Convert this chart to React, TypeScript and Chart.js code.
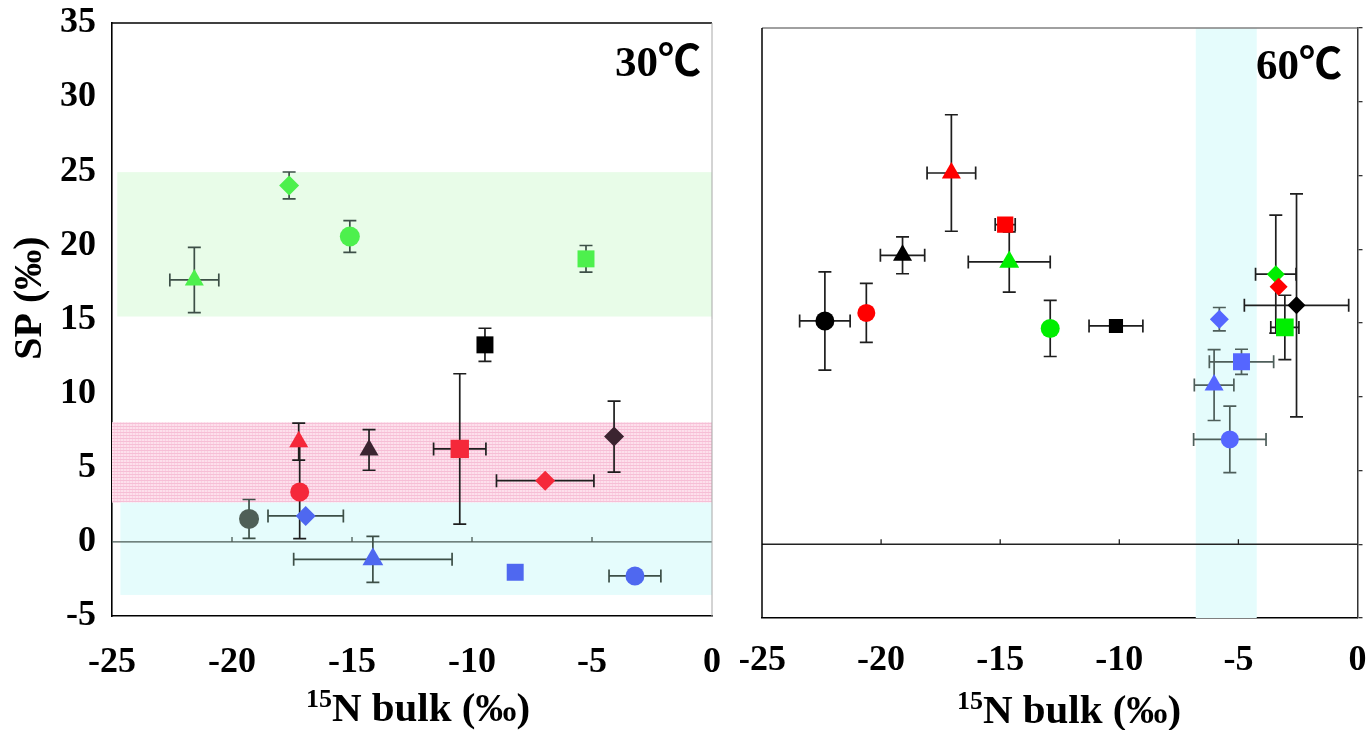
import React, { useEffect, useRef } from "react";
import { Chart, registerables } from "chart.js";

Chart.register(...registerables);

// ---------- axes ----------
const X_TICKS = [-25, -20, -15, -10, -5, 0];
const X_TICK_LABELS = ["-25", "-20", "-15", "-10", "-5", "0"];
const Y_TICKS = [-5, 0, 5, 10, 15, 20, 25, 30, 35];
const Y_TICK_LABELS = ["-5", "0", "5", "10", "15", "20", "25", "30", "35"];
const X_TITLE_SUP = "15";
const X_TITLE_MAIN = "N bulk (‰)";
const Y_TITLE = "SP (‰)";

// ---------- 30 ℃ panel data ----------
const L_LABEL = "30℃";
const L_BULK = [-21.57, -17.62, -15.09, -5.25, -9.46, -17.22, -17.18, -14.29, -10.51, -4.08, -6.95, -19.29, -16.93, -14.13, -8.2, -3.21];
const L_SP = [17.67, 24.04, 20.6, 19.09, 13.29, 6.76, 3.37, 6.2, 6.27, 7.1, 4.13, 1.55, 1.75, -1.18, -2.05, -2.3];
const L_BULK_ERR = [1.02, 0, 0, 0, 0, 0, 0, 0, 1.09, 0, 2.03, 0, 1.57, 3.3, 0, 1.08];
const L_SP_ERR = [2.2, 0.91, 1.07, 0.9, 1.12, 1.25, 3.15, 1.37, 5.07, 2.4, 0, 1.31, 0, 1.55, 0, 0];
// bands: green, pink, cyan
const L_BAND_X0 = [-24.78, -25, -24.65];
const L_BAND_X1 = [0, 0, 0];
const L_BAND_Y0 = [15.2, 2.65, -3.58];
const L_BAND_Y1 = [24.94, 8.07, 2.65];

// ---------- 60 ℃ panel data ----------
const R_LABEL = "60℃";
const R_BULK = [-22.36, -20.62, -19.1, -17.05, -14.79, -14.62, -12.9, -10.14, -5.8, -3.43, -3.31, -2.56, -3.05, -4.87, -6.02, -5.36];
const R_SP = [15.14, 15.68, 19.59, 25.17, 21.67, 19.14, 14.63, 14.8, 15.26, 18.31, 17.45, 16.2, 14.7, 12.37, 10.79, 7.11];
const R_BULK_ERR = [1.06, 0, 0.93, 1.02, 0.42, 1.72, 0, 1.13, 0, 0.85, 0, 2.19, 0.59, 1.35, 0.83, 1.52];
const R_SP_ERR = [3.33, 2.0, 1.25, 3.95, 0, 2.04, 1.9, 0, 0.79, 4.0, 0, 7.56, 2.18, 0.85, 2.4, 2.25];
const R_BAND_X0 = [-6.79];
const R_BAND_X1 = [-4.23];
const R_BAND_Y0 = [-5];
const R_BAND_Y1 = [35];

// ---------- styles ----------
const LG = "#4df04d", LR = "#f5283a", LB = "#4f68f0", LD = "#3b2430", LS = "#4f5f57", K = "#000000";
const L_SHAPE = ["triangle", "rectRot", "circle", "rect", "rect", "triangle", "circle", "triangle", "rect", "rectRot", "rectRot", "circle", "rectRot", "triangle", "rect", "circle"];
const L_COLOR = [LG, LG, LG, LG, K, LR, LR, LD, LR, LD, LR, LS, LB, LB, LB, LB];
const L_RADIUS = [11, 10, 10, 12, 12, 11, 9.5, 11, 13, 10, 10, 10, 10, 12, 12, 9.5];
const EG = "#3d4f47", EK = "#1e1e1e";
const L_ERR_COLOR = [EG, EG, EG, EG, EK, EK, EK, EK, EK, EK, EK, EG, EG, EG, EG, EG];
const L_BAND_FILL = ["green", "pink", "cyan"];

const RG = "#00ee00", RR = "#ff0000", RB = "#5566ff";
const R_SHAPE = ["circle", "circle", "triangle", "triangle", "rect", "triangle", "circle", "rect", "rectRot", "rectRot", "rectRot", "rectRot", "rect", "rect", "triangle", "circle"];
const R_COLOR = [K, RR, K, RR, RR, RG, RG, K, RB, RG, RR, K, RG, RB, RB, RB];
const R_RADIUS = [9.5, 9, 11, 11, 11.5, 11.5, 9.5, 10, 9.5, 9, 9, 9, 12.5, 12, 11, 9];
const EB = "#4e5e5a";
const R_ERR_COLOR = [EK, EK, EK, EK, EK, EK, EK, EK, EB, EK, EK, EK, EK, EB, EB, EB];
const R_BAND_FILL = ["cyan"];

const SERIF = '"Liberation Serif", "Times New Roman", serif';

type PanelDef = {
  id: string;
  label: string;
  bulk: number[];
  sp: number[];
  bulkErr: number[];
  spErr: number[];
  shape: string[];
  color: string[];
  radius: number[];
  errColor: string[];
  bx0: number[];
  bx1: number[];
  by0: number[];
  by1: number[];
  bfill: string[];
  canvasLeft: number;
  canvasWidth: number;
  padLeft: number;
  padRight: number;
  padTop: number;
  yAxisWidth: number;
  xAxisHeight: number;
  yOnLeft: boolean;
  xLabelPad: number;
  labelRight: number;
  labelBase: number;
  xTitleCenter: number;
  xTitleBase: number;
  zeroColor: string;
  topColor: string;
  sideColor: string;
};

function makePink(): CanvasPattern | string {
  const c = document.createElement("canvas");
  c.width = 3;
  c.height = 3;
  const g = c.getContext("2d");
  if (!g) return "#fde0ec";
  g.fillStyle = "#fde0ec";
  g.fillRect(0, 0, 3, 3);
  g.fillStyle = "#fbd0e2";
  g.fillRect(0, 0, 1, 3);
  g.fillStyle = "#f6bfd6";
  g.fillRect(0, 0, 3, 1);
  const p = g.createPattern(c, "repeat");
  return p || "#fde0ec";
}

function panelPlugin(p: PanelDef) {
  return {
    id: "panel_" + p.id,
    beforeDatasetsDraw(chart: any) {
      const { ctx, chartArea: a, scales } = chart;
      const x = scales.x;
      const y = scales.y;
      ctx.save();
      ctx.beginPath();
      ctx.rect(a.left, a.top, a.right - a.left, a.bottom - a.top);
      ctx.clip();
      for (let i = 0; i < p.bx0.length; i++) {
        const x0 = x.getPixelForValue(p.bx0[i]);
        const x1 = x.getPixelForValue(p.bx1[i]);
        const y0 = y.getPixelForValue(p.by1[i]);
        const y1 = y.getPixelForValue(p.by0[i]);
        const f = p.bfill[i];
        ctx.fillStyle = f === "green" ? "#e8fce8" : f === "pink" ? makePink() : "#e5fcfc";
        ctx.fillRect(x0, y0, x1 - x0, y1 - y0);
      }
      ctx.restore();

      ctx.save();
      // zero line with upward ticks
      const yz = y.getPixelForValue(0);
      ctx.strokeStyle = p.zeroColor;
      ctx.lineWidth = 1.3;
      ctx.beginPath();
      ctx.moveTo(a.left, yz);
      ctx.lineTo(a.right, yz);
      for (const t of X_TICKS) {
        if (t === X_TICKS[0] || t === X_TICKS[X_TICKS.length - 1]) continue;
        const px = x.getPixelForValue(t);
        ctx.moveTo(px, yz);
        ctx.lineTo(px, yz - 5);
      }
      ctx.stroke();

      // top border
      ctx.lineWidth = 1.5;
      ctx.strokeStyle = p.topColor;
      ctx.beginPath();
      ctx.moveTo(a.left, a.top);
      ctx.lineTo(a.right, a.top);
      ctx.stroke();
      // opposite side border
      ctx.strokeStyle = p.sideColor;
      ctx.beginPath();
      if (p.yOnLeft) {
        ctx.lineWidth = 1;
        ctx.moveTo(a.right, a.top);
        ctx.lineTo(a.right, a.bottom);
      } else {
        ctx.lineWidth = 1.5;
        ctx.moveTo(a.left, a.top);
        ctx.lineTo(a.left, a.bottom);
      }
      ctx.stroke();

      // error bars
      const cap = 6.5;
      ctx.lineWidth = 1.7;
      for (let i = 0; i < p.bulk.length; i++) {
        const px = x.getPixelForValue(p.bulk[i]);
        const py = y.getPixelForValue(p.sp[i]);
        ctx.strokeStyle = p.errColor[i];
        ctx.beginPath();
        if (p.bulkErr[i] > 0) {
          const xa = x.getPixelForValue(p.bulk[i] - p.bulkErr[i]);
          const xb = x.getPixelForValue(p.bulk[i] + p.bulkErr[i]);
          ctx.moveTo(xa, py);
          ctx.lineTo(xb, py);
          ctx.moveTo(xa, py - cap);
          ctx.lineTo(xa, py + cap);
          ctx.moveTo(xb, py - cap);
          ctx.lineTo(xb, py + cap);
        }
        if (p.spErr[i] > 0) {
          const ya = y.getPixelForValue(p.sp[i] + p.spErr[i]);
          const yb = y.getPixelForValue(p.sp[i] - p.spErr[i]);
          ctx.moveTo(px, ya);
          ctx.lineTo(px, yb);
          ctx.moveTo(px - cap, ya);
          ctx.lineTo(px + cap, ya);
          ctx.moveTo(px - cap, yb);
          ctx.lineTo(px + cap, yb);
        }
        ctx.stroke();
      }
      ctx.restore();
    },
    afterDraw(chart: any) {
      const { ctx } = chart;
      ctx.save();
      ctx.fillStyle = "#000";
      // temperature label
      ctx.font = 'bold 43px "Liberation Serif", "Noto Sans CJK JP", serif';
      ctx.textAlign = "right";
      ctx.textBaseline = "alphabetic";
      ctx.fillText(p.label, p.labelRight, p.labelBase);

      // x title with superscript
      const supFont = "bold 26px " + SERIF;
      const mainFont = "bold 41px " + SERIF;
      ctx.font = supFont;
      const w1 = ctx.measureText(X_TITLE_SUP).width;
      ctx.font = mainFont;
      const w2 = ctx.measureText(X_TITLE_MAIN).width;
      const start = p.xTitleCenter - (w1 + w2) / 2;
      ctx.textAlign = "left";
      ctx.font = supFont;
      ctx.fillText(X_TITLE_SUP, start, p.xTitleBase - 14);
      ctx.font = mainFont;
      ctx.fillText(X_TITLE_MAIN, start + w1, p.xTitleBase);

      // y title
      if (p.yOnLeft) {
        ctx.translate(31, 298);
        ctx.rotate(-Math.PI / 2);
        ctx.textAlign = "center";
        ctx.textBaseline = "middle";
        ctx.font = "bold 40px " + SERIF;
        ctx.fillText(Y_TITLE, 0, 0);
      }
      ctx.restore();
    },
  };
}

function buildConfig(p: PanelDef): any {
  const tickFont = { family: SERIF, size: 36, weight: "bold" as const };
  return {
    type: "scatter",
    data: {
      datasets: [
        {
          data: p.bulk.map((v, i) => ({ x: v, y: p.sp[i] })),
          pointStyle: p.shape,
          pointRadius: p.radius,
          pointHoverRadius: p.radius,
          backgroundColor: p.color,
          borderColor: p.color,
          borderWidth: 0,
          showLine: false,
        },
      ],
    },
    options: {
      animation: false,
      responsive: false,
      maintainAspectRatio: false,
      events: [],
      layout: { padding: { left: p.padLeft, right: p.padRight, top: p.padTop, bottom: 0 } },
      plugins: { legend: { display: false }, tooltip: { enabled: false } },
      scales: {
        x: {
          type: "linear",
          position: "bottom",
          min: X_TICKS[0],
          max: X_TICKS[X_TICKS.length - 1],
          afterBuildTicks: (s: any) => {
            s.ticks = X_TICKS.map((v) => ({ value: v }));
          },
          afterFit: (s: any) => {
            s.height = p.xAxisHeight;
            s.paddingLeft = 0;
            s.paddingRight = 0;
          },
          grid: { display: false },
          border: { display: true, color: "#000", width: 1.6 },
          ticks: {
            color: "#000",
            font: tickFont,
            padding: p.xLabelPad,
            maxRotation: 0,
            autoSkip: false,
            callback: (_v: any, i: number) => X_TICK_LABELS[i],
          },
        },
        y: {
          type: "linear",
          position: p.yOnLeft ? "left" : "right",
          min: Y_TICKS[0],
          max: Y_TICKS[Y_TICKS.length - 1],
          afterBuildTicks: (s: any) => {
            s.ticks = Y_TICKS.map((v) => ({ value: v }));
          },
          afterFit: (s: any) => {
            s.width = p.yAxisWidth;
            s.paddingTop = 0;
            s.paddingBottom = 0;
          },
          grid: p.yOnLeft
            ? { display: false }
            : { display: true, drawOnChartArea: false, drawTicks: true, tickLength: 5, color: "#333", lineWidth: 1.3 },
          border: p.yOnLeft ? { display: true, color: "#000", width: 1.6 } : { display: true, color: "#333", width: 1.5 },
          ticks: {
            display: p.yOnLeft,
            color: "#000",
            font: tickFont,
            padding: 8,
            autoSkip: false,
            callback: (_v: any, i: number) => Y_TICK_LABELS[i],
          },
        },
      },
    },
    plugins: [panelPlugin(p)],
  };
}

const LEFT: PanelDef = {
  id: "l",
  label: L_LABEL,
  bulk: L_BULK,
  sp: L_SP,
  bulkErr: L_BULK_ERR,
  spErr: L_SP_ERR,
  shape: L_SHAPE,
  color: L_COLOR,
  radius: L_RADIUS,
  errColor: L_ERR_COLOR,
  bx0: L_BAND_X0,
  bx1: L_BAND_X1,
  by0: L_BAND_Y0,
  by1: L_BAND_Y1,
  bfill: L_BAND_FILL,
  canvasLeft: 0,
  canvasWidth: 740,
  padLeft: 0,
  padRight: 28,
  padTop: 23,
  yAxisWidth: 112,
  xAxisHeight: 114,
  yOnLeft: true,
  xLabelPad: 17,
  labelRight: 701,
  labelBase: 76,
  xTitleCenter: 418,
  xTitleBase: 721,
  zeroColor: "#4a5a54",
  topColor: "#000",
  sideColor: "#a8a8a8",
};

const RIGHT: PanelDef = {
  id: "r",
  label: R_LABEL,
  bulk: R_BULK,
  sp: R_SP,
  bulkErr: R_BULK_ERR,
  spErr: R_SP_ERR,
  shape: R_SHAPE,
  color: R_COLOR,
  radius: R_RADIUS,
  errColor: R_ERR_COLOR,
  bx0: R_BAND_X0,
  bx1: R_BAND_X1,
  by0: R_BAND_Y0,
  by1: R_BAND_Y1,
  bfill: R_BAND_FILL,
  canvasLeft: 740,
  canvasWidth: 630,
  padLeft: 22,
  padRight: 0,
  padTop: 28,
  yAxisWidth: 12,
  xAxisHeight: 112,
  yOnLeft: false,
  xLabelPad: 13,
  labelRight: 602,
  labelBase: 79,
  xTitleCenter: 329,
  xTitleBase: 723,
  zeroColor: "#222",
  topColor: "#808080",
  sideColor: "#000",
};

function Panel({ def }: { def: PanelDef }) {
  const ref = useRef<HTMLCanvasElement>(null);
  useEffect(() => {
    if (!ref.current) return;
    const chart = new Chart(ref.current, buildConfig(def));
    return () => chart.destroy();
  }, [def]);
  return (
    <canvas
      ref={ref}
      width={def.canvasWidth}
      height={730}
      style={{ position: "absolute", left: def.canvasLeft, top: 0, width: def.canvasWidth, height: 730 }}
    />
  );
}

export default function App() {
  return (
    <div style={{ position: "absolute", left: 0, top: 0, width: 1370, height: 730, background: "#fff", overflow: "hidden" }}>
      <Panel def={LEFT} />
      <Panel def={RIGHT} />
    </div>
  );
}
